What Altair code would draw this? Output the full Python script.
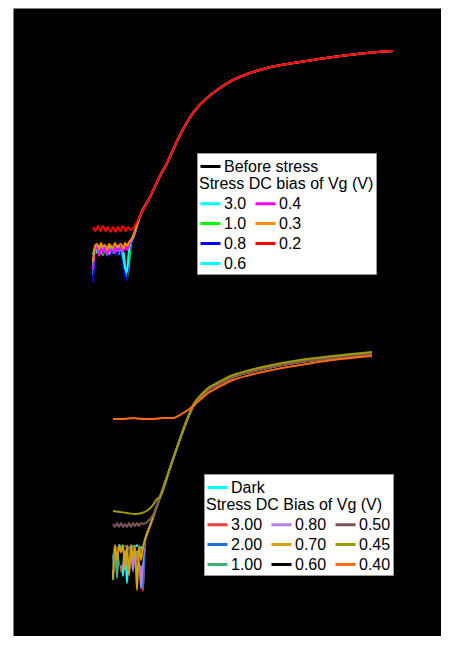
import altair as alt
import pandas as pd

# ---------------- TOP PANEL : Vg (V) vs log10(Id) ----------------
TOP_RISE_V = [-0.73, -0.63, -0.53, -0.46, -0.33, -0.20, -0.06, 0.07, 0.20, 0.37, 0.54, 0.87, 1.20, 1.54, 1.80]
TOP_RISE_L = [-10.40, -9.45, -8.40, -7.75, -6.35, -5.25, -4.50, -4.00, -3.60, -3.25, -3.00, -2.70, -2.45, -2.25, -2.15]

TOP_FLOOR_V = [-1.20, -1.18, -1.16, -1.14, -1.12, -1.10, -1.08, -1.06, -1.04, -1.02, -1.00,
               -0.98, -0.96, -0.94, -0.92, -0.90, -0.88, -0.86, -0.84, -0.82, -0.80]
TOP_FLOOR_30 = [-13.35, -11.95, -12.15, -12.05, -11.85, -12.20, -12.00, -12.10, -11.90, -12.25, -11.95,
                -12.15, -12.05, -11.90, -12.20, -12.10, -12.80, -13.35, -12.35, -11.70, -11.50]
TOP_FLOOR_10 = [-12.85, -12.05, -12.25, -11.95, -12.15, -12.35, -12.00, -12.20, -12.10, -11.95, -12.25,
                -12.05, -12.15, -12.30, -12.10, -12.50, -13.10, -13.50, -12.85, -11.80, -11.50]
TOP_FLOOR_08 = [-13.70, -12.20, -12.00, -12.35, -12.10, -12.25, -12.05, -12.40, -12.15, -12.30, -12.05,
                -12.20, -12.35, -12.10, -12.25, -12.70, -13.40, -13.60, -12.20, -11.75, -11.50]
TOP_FLOOR_06 = [-12.35, -12.00, -12.20, -11.90, -12.25, -12.05, -12.15, -11.95, -12.30, -12.00, -12.10,
                -12.20, -11.90, -12.15, -12.05, -12.40, -13.00, -13.20, -12.10, -11.70, -11.50]
TOP_FLOOR_04 = [-13.10, -12.10, -11.90, -12.40, -12.00, -12.20, -11.95, -12.35, -12.05, -12.15, -11.90,
                -12.25, -12.00, -12.10, -11.95, -12.20, -11.90, -12.10, -11.85, -11.65, -11.45]
TOP_FLOOR_03 = [-12.70, -11.90, -11.80, -12.05, -11.75, -11.95, -11.85, -12.10, -11.80, -11.90, -12.00,
                -11.75, -11.95, -11.85, -11.80, -12.05, -11.75, -11.90, -11.70, -11.60, -11.40]
RED_FLOOR_V = [-1.200, -1.175, -1.150, -1.125, -1.100, -1.075, -1.050, -1.025, -1.000,
               -0.975, -0.950, -0.925, -0.900, -0.875, -0.850, -0.825, -0.800]
RED_FLOOR_L = [-10.95, -11.15, -10.90, -11.15, -10.90, -11.15, -10.95, -11.20, -10.95,
               -11.20, -10.95, -11.15, -10.90, -11.15, -10.95, -11.10, -11.00]

TOP_ORDER = ["3.0", "1.0", "0.8", "0.6", "0.4", "0.3", "0.2"]
TOP_COLOR = {"3.0": "#00FFFF", "1.0": "#00FF00", "0.8": "#0000FF", "0.6": "#00FFFF",
             "0.4": "#FF00FF", "0.3": "#FF8C00", "0.2": "#FF0000"}
TOP_FLOORS = {"3.0": (TOP_FLOOR_V, TOP_FLOOR_30), "1.0": (TOP_FLOOR_V, TOP_FLOOR_10),
              "0.8": (TOP_FLOOR_V, TOP_FLOOR_08), "0.6": (TOP_FLOOR_V, TOP_FLOOR_06),
              "0.4": (TOP_FLOOR_V, TOP_FLOOR_04), "0.3": (TOP_FLOOR_V, TOP_FLOOR_03),
              "0.2": (RED_FLOOR_V, RED_FLOOR_L)}

# ---------------- BOTTOM PANEL ----------------
BOT_MAIN_V = [-0.63, -0.53, -0.43, -0.33, -0.26, -0.20, -0.13, -0.05, 0.04, 0.20, 0.37, 0.54, 0.87, 1.20, 1.59]
BOT_MAIN_L = [-9.90, -8.45, -7.00, -5.55, -4.60, -3.95, -3.50, -3.10, -2.85, -2.45, -2.20, -2.00, -1.70, -1.50, -1.30]

BOT_FLOOR_V = [-1.00, -0.98, -0.96, -0.94, -0.92, -0.90, -0.88, -0.86, -0.84,
               -0.82, -0.80, -0.78, -0.76, -0.74, -0.72, -0.70, -0.68]
BOT_FLOOR_DARK = [-11.60, -10.90, -12.10, -10.85, -11.00, -12.40, -10.90, -12.75, -10.95,
                  -11.60, -10.90, -11.20, -10.85, -11.70, -10.95, -11.10, -10.60]
BOT_FLOOR_300 = [-11.85, -10.95, -11.20, -10.90, -12.20, -10.95, -11.05, -10.90, -12.35,
                 -10.95, -11.15, -10.90, -11.60, -10.95, -12.50, -13.15, -10.65]
BOT_FLOOR_200 = [-12.10, -11.00, -11.70, -10.90, -11.10, -10.95, -12.00, -10.90, -11.20,
                 -10.95, -12.20, -10.90, -11.25, -11.00, -11.85, -13.00, -10.65]
BOT_FLOOR_100 = [-12.60, -10.90, -12.50, -10.95, -11.50, -10.90, -11.15, -10.95, -11.90,
                 -10.90, -11.20, -10.95, -11.50, -10.90, -11.15, -11.00, -10.60]
BOT_FLOOR_080 = [-12.35, -10.95, -11.25, -10.90, -11.95, -10.95, -11.50, -10.90, -11.15,
                 -10.95, -12.10, -10.90, -11.20, -10.95, -13.00, -11.60, -10.65]
BOT_FLOOR_070 = [-12.50, -10.85, -11.60, -10.90, -11.20, -10.85, -12.10, -10.90, -12.35,
                 -10.85, -11.50, -10.90, -13.10, -10.90, -11.60, -11.00, -10.60]
BOT_FLOOR_060 = [-12.10, -10.90, -11.35, -10.95, -11.85, -10.90, -11.10, -10.95, -11.60,
                 -10.90, -11.35, -10.95, -11.10, -10.90, -11.85, -11.10, -10.65]

BROWN_V = [-1.00, -0.98, -0.96, -0.94, -0.92, -0.90, -0.88, -0.86, -0.84, -0.82, -0.80,
           -0.78, -0.76, -0.74, -0.72, -0.70, -0.66, -0.63, -0.60]
BROWN_L = [-9.80, -9.95, -9.75, -9.95, -9.75, -9.95, -9.80, -9.95, -9.75, -9.95, -9.75,
           -9.90, -9.75, -9.90, -9.75, -9.80, -9.70, -9.55, -9.35]
OLIVE_V = [-1.00, -0.93, -0.86, -0.78, -0.71, -0.65, -0.60, -0.56, -0.53, -0.43, -0.33, -0.26,
           -0.20, -0.13, -0.05, 0.04, 0.20, 0.37, 0.54, 0.87, 1.20, 1.59]
OLIVE_L = [-9.15, -9.20, -9.25, -9.30, -9.25, -9.10, -8.85, -8.55, -8.45, -7.00, -5.55, -4.60,
           -3.85, -3.40, -3.00, -2.75, -2.35, -2.10, -1.90, -1.60, -1.40, -1.20]
ORANGE_V = [-1.00, -0.90, -0.80, -0.70, -0.60, -0.50, -0.40, -0.35, -0.30, -0.25, -0.20,
            -0.13, -0.05, 0.04, 0.20, 0.37, 0.54, 0.87, 1.20, 1.59]
ORANGE_L = [-4.55, -4.55, -4.50, -4.55, -4.55, -4.50, -4.50, -4.40, -4.25, -4.10, -3.90,
            -3.60, -3.25, -3.00, -2.60, -2.35, -2.15, -1.85, -1.60, -1.40]

BOT_DRAW = ["3.00", "2.00", "1.00", "0.80", "0.60", "0.70", "0.50", "0.45", "0.40"]
BOT_ORDER = ["3.00", "2.00", "1.00", "0.80", "0.70", "0.60", "0.50", "0.45", "0.40"]
BOT_COLOR = {"3.00": "#EE3B3B", "2.00": "#1E6FD9", "1.00": "#3CB371", "0.80": "#B784E6",
             "0.70": "#D4A20C", "0.60": "#000000", "0.50": "#7B5555", "0.45": "#9C9C00",
             "0.40": "#FF6A10"}

FONT = "Liberation Sans"
W, H = 428, 628
X_DOMAIN = [-2.0, 2.28]
Y_TOP_DOMAIN = [-31.4, 0.0]
Y_BOT_DOMAIN = [-15.4, 16.0]


def rows(series, vs, ls):
    return [{"series": series, "vg": v, "logI": l, "i": k} for k, (v, l) in enumerate(zip(vs, ls))]


top_before = pd.DataFrame(rows("Before stress", TOP_RISE_V, TOP_RISE_L))
top_recs = []
for s in TOP_ORDER:
    fv, fl = TOP_FLOORS[s]
    top_recs += rows(s, list(fv) + TOP_RISE_V, list(fl) + TOP_RISE_L)
top_stress = pd.DataFrame(top_recs)

bot_dark = pd.DataFrame(rows("Dark", BOT_FLOOR_V + BOT_MAIN_V, BOT_FLOOR_DARK + BOT_MAIN_L))
noisy = {"3.00": BOT_FLOOR_300, "2.00": BOT_FLOOR_200, "1.00": BOT_FLOOR_100,
         "0.80": BOT_FLOOR_080, "0.70": BOT_FLOOR_070, "0.60": BOT_FLOOR_060}
bot_recs = []
for s in BOT_DRAW:
    if s in noisy:
        bot_recs += rows(s, BOT_FLOOR_V + BOT_MAIN_V, noisy[s] + BOT_MAIN_L)
    elif s == "0.50":
        bot_recs += rows(s, BROWN_V + BOT_MAIN_V[1:], BROWN_L + BOT_MAIN_L[1:])
    elif s == "0.45":
        bot_recs += rows(s, OLIVE_V, OLIVE_L)
    else:
        bot_recs += rows(s, ORANGE_V, ORANGE_L)
bot_stress = pd.DataFrame(bot_recs)


def leg(**kw):
    base = dict(orient="none", symbolType="stroke", symbolSize=400, symbolStrokeWidth=3,
                labelFont=FONT, labelFontSize=16, labelColor="black", labelOffset=2,
                titleFont=FONT, titleFontSize=16, titleFontWeight="normal", titleColor="black",
                titleLimit=400, labelLimit=200, padding=2, rowPadding=0, columnPadding=2)
    base.update(kw)
    return alt.Legend(**base)


def layer(df, ydom, domain, colors, legend):
    return alt.Chart(df).mark_line(strokeWidth=2, interpolate="monotone", clip=True).encode(
        x=alt.X("vg:Q", scale=alt.Scale(domain=X_DOMAIN, nice=False, zero=False), axis=None),
        y=alt.Y("logI:Q", scale=alt.Scale(domain=ydom, nice=False, zero=False), axis=None),
        order="i:Q",
        color=alt.Color("series:N", scale=alt.Scale(domain=domain, range=colors), legend=legend),
    )


t_before = layer(top_before, Y_TOP_DOMAIN, ["Before stress"], ["black"],
                 leg(title=None, legendX=184, legendY=145, zindex=2))
t_stress = layer(top_stress, Y_TOP_DOMAIN, TOP_ORDER, [TOP_COLOR[s] for s in TOP_ORDER],
                 leg(title=["", "Stress DC bias of Vg (V)"], columns=2, legendX=184, legendY=145,
                     fillColor="white", strokeColor="#999999", titleLineHeight=21,
                     titlePadding=0, zindex=1))
b_dark = layer(bot_dark, Y_BOT_DOMAIN, ["Dark"], ["#00FFFF"],
               leg(title=None, legendX=191, legendY=466, zindex=2))
b_stress = layer(bot_stress, Y_BOT_DOMAIN, BOT_ORDER, [BOT_COLOR[s] for s in BOT_ORDER],
                 leg(title=["", "Stress DC Bias of Vg (V)"], columns=3, legendX=191, legendY=466,
                     fillColor="white", strokeColor="#999999", titleLineHeight=21,
                     titlePadding=0, zindex=1))

chart = alt.layer(t_before, t_stress, b_dark, b_stress).resolve_scale(
    color="independent", y="independent"
).properties(
    width=W, height=H, background="white",
    padding={"left": 5, "top": 0, "right": 0, "bottom": 0},
).configure_view(fill="black", stroke="transparent")

chart.save("out.html", embed_options={"renderer": "svg", "actions": False})
